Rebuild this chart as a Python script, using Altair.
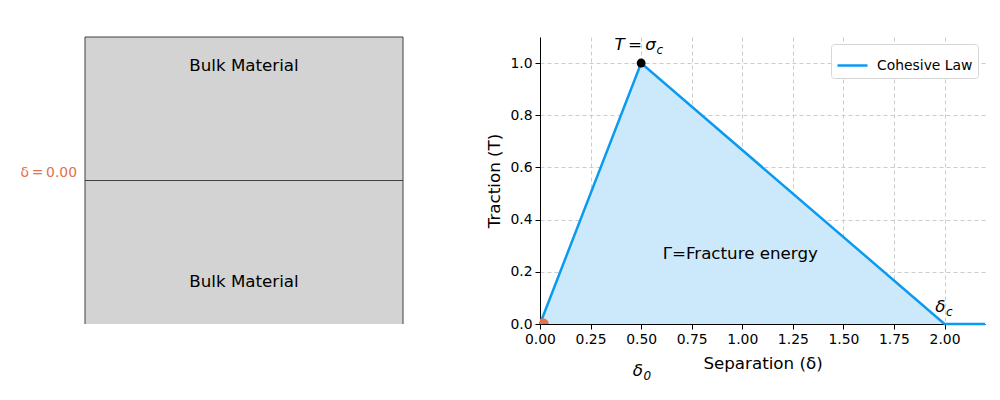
import altair as alt
import pandas as pd

# ---------------- data ----------------
# Cohesive law (bilinear traction-separation)
separation = [0.0, 0.5, 2.0, 2.2]
traction = [0.0, 1.0, 0.0, 0.0]
series_name = ["Cohesive Law"] * 4

# key points
peak_x, peak_y = [0.5], [1.0]
origin_x, origin_y = [0.015], [0.0]

# annotations on the cohesive-law panel
ann_x = [0.99]
ann_y = [0.27]
ann_text = ["Γ=Fracture energy"]

# subscripted labels: main symbol + subscript (x = where symbol meets subscript)
sub_main = ["T\u2009=\u2009σ", "δ", "δ"]
sub_sub = ["c", "0", "c"]
sub_x = [0.573, 0.509, 2.005]
sub_y = [1.07, -0.18, 0.065]

# schematic block (two bulk materials separated by an interface at δ = 0)
block_x0, block_x1 = [0.0], [1.0]
block_y0, block_y1 = [-1.0], [1.0]
interface_y = [0.0]
bulk_labels = ["Bulk Material", "Bulk Material"]
bulk_label_y = [0.8, -0.71]
delta_label = ["δ\u2009=\u20090.00"]

BLUE = "#0a9af0"
FILL = "#cce9fb"
ORANGE = "#e4704c"
FONT = "DejaVu Sans"
SMALL = 13.9
BIG = 16.7

# ---------------- left panel ----------------
LW, H = 456, 287
lx = alt.Scale(domain=[-0.2421, 1.1918], nice=False, zero=False)
ly = alt.Scale(domain=[-1, 1], nice=False, zero=False)

block_df = pd.DataFrame({"x0": block_x0, "x1": block_x1, "y0": block_y0, "y1": block_y1})
block = alt.Chart(block_df).mark_rect(color="#d3d3d3").encode(
    x=alt.X("x0:Q", scale=lx, axis=None), x2="x1:Q",
    y=alt.Y("y0:Q", scale=ly, axis=None), y2="y1:Q",
)
edges_df = pd.DataFrame({
    "xa": [block_x0[0], block_x1[0], block_x0[0], block_x0[0]],
    "xb": [block_x0[0], block_x1[0], block_x1[0], block_x1[0]],
    "ya": [block_y0[0], block_y0[0], block_y1[0], interface_y[0]],
    "yb": [block_y1[0], block_y1[0], block_y1[0], interface_y[0]],
})
edges = alt.Chart(edges_df).mark_rule(color="#404040", strokeWidth=1).encode(
    x=alt.X("xa:Q", scale=lx, axis=None), x2="xb:Q",
    y=alt.Y("ya:Q", scale=ly, axis=None), y2="yb:Q",
)
bulk_df = pd.DataFrame({"t": bulk_labels, "y": bulk_label_y, "x": [0.5, 0.5]})
bulk = alt.Chart(bulk_df).mark_text(fontSize=BIG, font=FONT, color="black").encode(
    x=alt.X("x:Q", scale=lx, axis=None), y=alt.Y("y:Q", scale=ly, axis=None), text="t:N"
)
dl_df = pd.DataFrame({"t": delta_label, "x": [-0.025], "y": interface_y})
dlab = alt.Chart(dl_df).mark_text(
    fontSize=13.9, font=FONT, color=ORANGE, align="right", baseline="bottom", dy=-1
).encode(x=alt.X("x:Q", scale=lx, axis=None), y=alt.Y("y:Q", scale=ly, axis=None), text="t:N")

left = alt.layer(block, edges, bulk, dlab).properties(width=LW, height=H)

# ---------------- right panel ----------------
RW = 445
rx = alt.Scale(domain=[0, 2.2], nice=False, zero=False)
ry = alt.Scale(domain=[0, 1.1], nice=False, zero=False)

law_df = pd.DataFrame({"sep": separation, "tr": traction, "s": series_name})

xaxis = alt.Axis(
    values=[0, 0.25, 0.5, 0.75, 1.0, 1.25, 1.5, 1.75, 2.0], format=".2f",
    title="Separation (δ)", titleFontSize=BIG, titleFont=FONT, titleFontWeight="normal",
    labelFontSize=SMALL, labelFont=FONT, labelColor="black", titleColor="black",
    grid=True, gridDash=[4, 3], gridColor="#cccccc", domainColor="black",
    tickColor="black", tickSize=5, labelPadding=3, titlePadding=10, labelFlush=False,
)
yaxis = alt.Axis(
    values=[0, 0.2, 0.4, 0.6, 0.8, 1.0], format=".1f",
    title="Traction (T)", titleFontSize=BIG, titleFont=FONT, titleFontWeight="normal",
    labelFontSize=SMALL, labelFont=FONT, labelColor="black", titleColor="black",
    grid=True, gridDash=[4, 3], gridColor="#cccccc", domainColor="black",
    tickColor="black", tickSize=5, labelPadding=3, titlePadding=6, labelFlush=False,
)

area = alt.Chart(law_df).mark_area(color=FILL, opacity=1).encode(
    x=alt.X("sep:Q", scale=rx, axis=xaxis), y=alt.Y("tr:Q", scale=ry, axis=yaxis)
)
line = alt.Chart(law_df).mark_line(strokeWidth=2.5).encode(
    x=alt.X("sep:Q", scale=rx), y=alt.Y("tr:Q", scale=ry),
    stroke=alt.Stroke("s:N", scale=alt.Scale(domain=["Cohesive Law"], range=[BLUE]),
                      legend=alt.Legend(title=None, orient="top-right", symbolType="stroke",
                                        symbolStrokeWidth=2.5, symbolSize=900, labelOffset=8,
                                        labelFontSize=SMALL, labelFont=FONT, labelColor="black",
                                        fillColor="white", strokeColor="#d6d6d6",
                                        cornerRadius=3, padding=5, offset=7)),
)
peak = alt.Chart(pd.DataFrame({"x": peak_x, "y": peak_y})).mark_circle(
    color="black", size=80, opacity=1
).encode(x=alt.X("x:Q", scale=rx), y=alt.Y("y:Q", scale=ry))
orig = alt.Chart(pd.DataFrame({"x": origin_x, "y": origin_y})).mark_circle(
    color=ORANGE, size=130, opacity=1, clip=True
).encode(x=alt.X("x:Q", scale=rx), y=alt.Y("y:Q", scale=ry))

ann = alt.Chart(pd.DataFrame({"x": ann_x, "y": ann_y, "t": ann_text})).mark_text(
    fontSize=BIG, font=FONT, color="black"
).encode(x=alt.X("x:Q", scale=rx), y=alt.Y("y:Q", scale=ry), text="t:N")

sub_df = pd.DataFrame({"x": sub_x, "y": sub_y, "m": sub_main, "s": sub_sub})
sub_main_mark = alt.Chart(sub_df).mark_text(
    fontSize=BIG, font=FONT, fontStyle="italic", color="black", align="right"
).encode(x=alt.X("x:Q", scale=rx), y=alt.Y("y:Q", scale=ry), text="m:N")
sub_sub_mark = alt.Chart(sub_df).mark_text(
    fontSize=12, font=FONT, fontStyle="italic", color="black", align="left", dx=0.5, dy=5
).encode(x=alt.X("x:Q", scale=rx), y=alt.Y("y:Q", scale=ry), text="s:N")

right = alt.layer(area, line, peak, orig, ann, sub_main_mark, sub_sub_mark).properties(
    width=RW, height=H
)

chart = alt.hconcat(left, right, spacing=22).resolve_legend(stroke="independent").properties(
    padding={"left": 0, "top": 28, "right": 0, "bottom": 0}
).configure(font=FONT).configure_view(stroke=None)

chart.save("out.html", embed_options={"renderer": "svg", "actions": False})
